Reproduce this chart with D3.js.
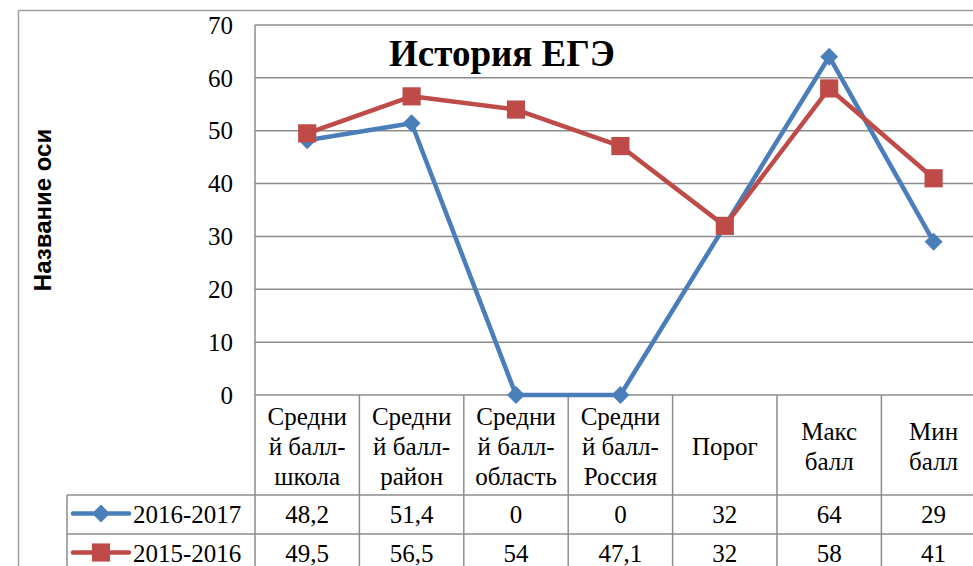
<!DOCTYPE html>
<html>
<head>
<meta charset="utf-8">
<script src="https://cdn.jsdelivr.net/npm/d3@7"></script>
</head>
<body style="margin: 0; background: #fff;">
<svg></svg>
<script>
const width = 973,
      height = 566;

const categories = ['Средний балл-школа', 'Средний балл-район', 'Средний балл-область',
                    'Средний балл-Россия', 'Порог', 'Макс балл', 'Мин балл'];

const categoryLines = [
  ['Средни', 'й балл-', 'школа'],
  ['Средни', 'й балл-', 'район'],
  ['Средни', 'й балл-', 'область'],
  ['Средни', 'й балл-', 'Россия'],
  ['Порог'],
  ['Макс', 'балл'],
  ['Мин', 'балл']
];

const seriesNames = ['2016-2017', '2015-2016'];
const values2017 = [48.2, 51.4, 0, 0, 32, 64, 29];
const values2016 = [49.5, 56.5, 54, 47.1, 32, 58, 41];
const yTicks = [0, 10, 20, 30, 40, 50, 60, 70];

const series = [
  { name: seriesNames[0], values: values2017, color: '#4a7ebb', marker: 'diamond' },
  { name: seriesNames[1], values: values2016, color: '#be4b48', marker: 'square' }
];

const serif = '"Liberation Serif", "Times New Roman", serif',
      sans = '"Liberation Sans", Arial, sans-serif';

const plotLeft = 255,
      plotTop = 25,
      plotBottom = 395,
      colWidth = 104.4,
      headerBottom = 495,
      rowHeight = 39,
      legendLeft = 67;

const x = d3.scaleBand()
            .domain(categories)
            .range([plotLeft, plotLeft + colWidth * categories.length]);

const y = d3.scaleLinear()
            .domain([0, 70])
            .range([plotBottom, plotTop]);

const svg = d3.select('svg')
    .attr('width', width)
    .attr('height', height)
    .style('display', 'block');

const gridColor = '#8c8c8c';

// outer chart border
svg.append('rect')
    .attr('x', 18.5)
    .attr('y', 10.5)
    .attr('width', width + 20)
    .attr('height', height + 20)
    .attr('fill', 'none')
    .attr('stroke', '#a0a0a0')
    .attr('stroke-width', 1.5);

// gridlines
svg.append('g')
  .selectAll('line')
  .data(yTicks)
  .join('line')
    .attr('x1', plotLeft)
    .attr('x2', width + 10)
    .attr('y1', (d) => y(d))
    .attr('y2', (d) => y(d))
    .attr('stroke', gridColor)
    .attr('stroke-width', 1.5);

// y axis labels
const yAxis = svg.append('g')
    .attr('transform', `translate(${plotLeft - 22}, 0)`)
    .call(d3.axisLeft(y).tickValues(yTicks).tickSize(0).tickPadding(0));

yAxis.select('.domain').remove();
yAxis.selectAll('text')
    .style('font-family', serif)
    .attr('font-size', 25)
    .attr('dy', '0.33em')
    .attr('fill', '#000');

// axis title
svg.append('text')
    .attr('transform', 'translate(51, 210) rotate(-90)')
    .attr('text-anchor', 'middle')
    .style('font-family', sans)
    .style('font-weight', 'bold')
    .attr('font-size', 24)
    .text('Название оси');

// title
svg.append('text')
    .attr('x', 502)
    .attr('y', 66)
    .attr('text-anchor', 'middle')
    .style('font-family', serif)
    .attr('font-size', 37)
    .attr('font-weight', 'bold')
    .text('История ЕГЭ');

// table: vertical lines
const tableBottom = height + 20;
const bounds = categories.map((c) => x(c)).concat([x.range()[1]]);

svg.append('g')
  .selectAll('line')
  .data(bounds)
  .join('line')
    .attr('x1', (d) => d)
    .attr('x2', (d) => d)
    .attr('y1', (d, i) => i === 0 ? plotTop : plotBottom)
    .attr('y2', tableBottom)
    .attr('stroke', gridColor)
    .attr('stroke-width', 1.5);

svg.append('line')
    .attr('x1', legendLeft)
    .attr('x2', legendLeft)
    .attr('y1', headerBottom)
    .attr('y2', tableBottom)
    .attr('stroke', gridColor)
    .attr('stroke-width', 1.5);

// table: horizontal lines
svg.append('g')
  .selectAll('line')
  .data([headerBottom, headerBottom + rowHeight])
  .join('line')
    .attr('x1', legendLeft)
    .attr('x2', width + 10)
    .attr('y1', (d) => d)
    .attr('y2', (d) => d)
    .attr('stroke', gridColor)
    .attr('stroke-width', 1.5);

// category labels
const catLabels = svg.append('g')
  .selectAll('text')
  .data(categories)
  .join('text')
    .attr('text-anchor', 'middle')
    .style('font-family', serif)
    .attr('font-size', 25);

catLabels.each(function (d, i) {
  const lines = categoryLines[i];
  d3.select(this)
    .selectAll('tspan')
    .data(lines)
    .join('tspan')
      .attr('x', x(d) + x.bandwidth() / 2)
      .attr('y', (l, j) => 455 + (j - (lines.length - 1) / 2) * 30)
      .text((l) => l);
});

// markers: diamond is a square turned 45 degrees
const markerPath = (m) => m === 'diamond'
  ? d3.symbol().type(d3.symbolSquare).size(160)()
  : d3.symbol().type(d3.symbolSquare).size(330)();
const markerRotate = (m) => m === 'diamond' ? ' rotate(45)' : '';

const line = d3.line()
               .x((d, i) => x(categories[i]) + x.bandwidth() / 2)
               .y((d) => y(d));

series.forEach((s) => {
  const g = svg.append('g');

  g.append('path')
      .attr('d', line(s.values))
      .attr('fill', 'none')
      .attr('stroke', s.color)
      .attr('stroke-width', 4.5)
      .attr('stroke-linejoin', 'round');

  g.selectAll('path.marker')
    .data(s.values)
    .join('path')
      .classed('marker', true)
      .attr('transform', (d, i) => `translate(${x(categories[i]) + x.bandwidth() / 2}, ${y(d)})` + markerRotate(s.marker))
      .attr('d', markerPath(s.marker))
      .attr('fill', s.color);
});

// table rows: legend keys and values
series.forEach((s, r) => {
  const rowMid = headerBottom + rowHeight * r + rowHeight / 2;
  const row = svg.append('g');

  row.append('line')
      .attr('x1', 73)
      .attr('x2', 129)
      .attr('y1', rowMid - 1)
      .attr('y2', rowMid - 1)
      .attr('stroke', s.color)
      .attr('stroke-width', 4.5)
      .attr('stroke-linecap', 'round');

  row.append('path')
      .attr('transform', `translate(101, ${rowMid - 1})` + markerRotate(s.marker))
      .attr('d', markerPath(s.marker))
      .attr('fill', s.color);

  row.append('text')
      .attr('x', 133)
      .attr('y', rowMid + 8)
      .style('font-family', serif)
      .attr('font-size', 25)
      .text(s.name);

  row.selectAll('text.val')
    .data(s.values)
    .join('text')
      .classed('val', true)
      .attr('x', (d, i) => x(categories[i]) + x.bandwidth() / 2)
      .attr('y', rowMid + 8)
      .attr('text-anchor', 'middle')
      .style('font-family', serif)
      .attr('font-size', 25)
      .text((d) => String(d).replace('.', ','));
});
</script>
</body>
</html>
